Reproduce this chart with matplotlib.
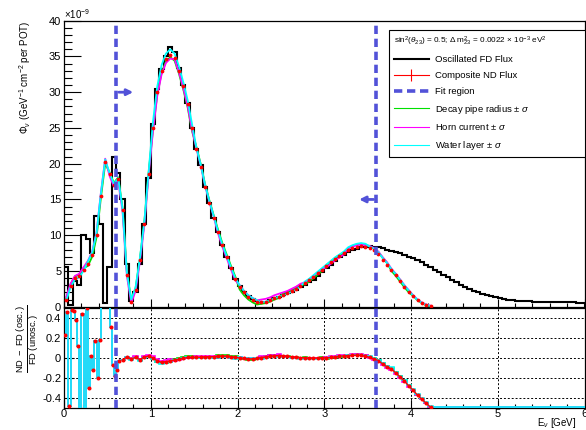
import numpy as np
import matplotlib
matplotlib.use('Agg')
import matplotlib.pyplot as plt
from matplotlib.lines import Line2D
from matplotlib.ticker import MultipleLocator, FormatStrFormatter

plt.rcParams['font.family'] = ['Liberation Sans', 'DejaVu Sans']
plt.rcParams['mathtext.fontset'] = 'custom'
plt.rcParams['mathtext.rm'] = 'Liberation Sans'
plt.rcParams['mathtext.it'] = 'Liberation Sans:italic'
plt.rcParams['mathtext.bf'] = 'Liberation Sans:bold'
plt.rcParams['axes.unicode_minus'] = False

# 50 MeV binning, flux in units of 1e-9 /GeV/cm2/POT
flux_edges = np.linspace(0, 6, 121)

fd_osc = [
    5.5, 0.3, 3.6, 3.0, 10.0, 9.5, 7.5, 12.7, 11.6, 0.5,
    5.6, 21.0, 18.7, 15.0, 6.0, 0.8, 2.0, 6.0, 11.5, 18.0,
    25.5, 30.5, 33.3, 35.0, 36.3, 35.6, 33.4, 31.0, 28.5, 25.0,
    22.0, 19.8, 16.8, 14.5, 12.4, 10.5, 8.6, 7.0, 5.4, 3.9,
    2.9, 2.1, 1.5, 1.1, 0.8, 0.6, 0.7, 0.9, 1.2, 1.4,
    1.6, 1.9, 2.1, 2.4, 2.7, 3.1, 3.4, 3.8, 4.3, 4.9,
    5.4, 5.9, 6.4, 6.9, 7.2, 7.6, 7.9, 8.1, 8.3, 8.4,
    8.45, 8.4, 8.35, 8.2, 8.0, 7.85, 7.65, 7.45, 7.25, 7.0,
    6.75, 6.5, 6.2, 5.9, 5.55, 5.2, 4.85, 4.5, 4.15, 3.8,
    3.45, 3.1, 2.8, 2.5, 2.25, 2.0, 1.8, 1.65, 1.45, 1.3,
    1.15, 1.05, 0.98, 0.92, 0.86, 0.82, 0.78, 0.75, 0.72, 0.7,
    0.68, 0.66, 0.65, 0.64, 0.63, 0.62, 0.6, 0.6, 0.58, 0.57,
]

# composite ND flux, 0 - 4.25 GeV
nd_flux = [
    1.0, 2.9, 4.0, 4.3, 5.2, 6.0, 7.3, 10.0, 15.5, 20.3,
    18.5, 17.0, 17.8, 13.5, 4.5, 0.7, 2.4, 6.5, 11.5, 18.5,
    25.0, 30.0, 33.0, 34.6, 35.2, 34.8, 33.0, 30.8, 28.3, 25.0,
    22.0, 19.6, 16.8, 14.5, 12.4, 10.5, 8.6, 7.0, 5.4, 3.9,
    2.8, 2.0, 1.4, 1.0, 0.7, 0.6, 0.7, 0.9, 1.2, 1.4,
    1.7, 1.9, 2.2, 2.5, 2.9, 3.3, 3.7, 4.2, 4.7, 5.2,
    5.7, 6.2, 6.7, 7.1, 7.5, 7.9, 8.2, 8.4, 8.5, 8.4,
    8.2, 7.9, 7.4, 6.6, 5.9, 5.1, 4.4, 3.6, 2.8, 2.1,
    1.5, 0.9, 0.5, 0.2, 0.05,
]

# systematic shifts of the ND flux, per 250 MeV band (0 - 4.25 GeV)
shift_decay = [0.2, -0.3, 0.3, 0.2, -0.3, -0.4, 0.4, 0.3, -0.4, -0.2, 0.2, -0.2, 0.1, 0.3, 0.2, -0.1, 0.0]
shift_horn = [0.3, 0.4, -0.2, -0.2, -0.5, -0.2, 0.2, -0.2, 0.2, 0.4, 0.3, 0.1, -0.2, 0.2, 0.3, 0.2, 0.1]
shift_water = [-0.2, 0.3, 0.2, 0.3, 0.8, 0.6, 0.3, 0.1, 0.2, 0.0, -0.1, 0.2, 0.2, 0.4, 0.2, 0.15, 0.05]

# (ND - FD osc) / FD unosc : 25 MeV bins below 0.65 GeV, 50 MeV above
ratio_edges = np.concatenate([np.linspace(0, 0.625, 26), np.linspace(0.65, 6.0, 108)])
ratio_low = [
    0.23, 0.46, -0.48, 0.48, 0.47, 0.38, 0.12, -0.8, 0.44, -0.9,
    0.5, -0.3, 0.02, -0.12, 0.17, -0.2, 0.18, 0.8, 1.0, 0.9,
    0.7, 0.31, -0.07, -0.18, -0.12, -0.03,
]
ratio_mid = [
    -0.02, 0.01, -0.01, 0.005, -0.017, 0.01, 0.017,
    0.0, -0.03, -0.043, -0.037, -0.03, -0.02, -0.015, -0.005, 0.005, 0.007,
    0.005, 0.008, 0.01, 0.012, 0.012, 0.015, 0.017, 0.017, 0.01, 0.005,
    0.0, -0.005, -0.01, -0.01, -0.005, 0.003, 0.01, 0.015, 0.02, 0.023,
    0.02, 0.015, 0.01, 0.007, 0.003, 0.0, -0.003, -0.003, -0.002, 0.0,
    0.0, 0.005, 0.01, 0.017, 0.02, 0.023, 0.025, 0.027, 0.024, 0.017,
    0.005, -0.01, -0.03, -0.06, -0.09, -0.11, -0.15, -0.19, -0.23, -0.28,
    -0.32, -0.37, -0.41, -0.45, -0.49,
]
ratio_tail = [-1.0] * 35  # no ND flux above 4.25 GeV

rshift_decay = [0, 0, 0, 0.0, -0.01, 0.01, -0.005, 0.01, -0.01, 0.01, 0.0, 0.005, -0.008, 0.008, 0.005, 0.01, 0.0]
rshift_horn = [0.0, 0.0, 0, 0.01, 0.015, -0.01, 0.01, -0.008, 0.008, 0.012, -0.005, 0.0, 0.01, 0.01, -0.01, -0.01, 0]
rshift_water = [0, 0, 0, -0.01, -0.015, 0.0, -0.01, -0.012, 0.005, -0.01, -0.01, -0.008, 0.0, 0.005, 0.01, 0.015, 0.01]

fit_lo, fit_hi = 0.6, 3.6
fit_color = '#5252d8'
var_colors = ['#00e000', '#ff00ff', '#00ffff']

# ---- derived arrays
nd_flux = np.array(nd_flux)
nd_edges = flux_edges[:len(nd_flux) + 1]
nd_centers = 0.5 * (nd_edges[1:] + nd_edges[:-1])
nd_band = (nd_centers // 0.25).astype(int)

ratio_nom = np.array(ratio_low + ratio_mid)
r_centers = 0.5 * (ratio_edges[1:] + ratio_edges[:-1])
r_band = (r_centers[:len(ratio_nom)] // 0.25).astype(int)
n_low = len(ratio_low)

fig = plt.figure(figsize=(5.86, 4.30), dpi=100)
ax1 = fig.add_axes([64 / 586, 1 - 306.7 / 430, 520.5 / 586, 286 / 430])
ax2 = fig.add_axes([64 / 586, 1 - 408.3 / 430, 520.5 / 586, 100.8 / 430])

# ---- top: fluxes
ax1.stairs(fd_osc, flux_edges, color='black', lw=1.5, zorder=2)
for shift, col, z in zip([shift_decay, shift_horn, shift_water], var_colors, [3, 4, 5]):
    var = np.clip(nd_flux + np.array(shift)[nd_band], 0, None)
    ax1.plot(nd_centers, var, color=col, lw=1.3, zorder=z)
ax1.plot(nd_centers, nd_flux, ls='none', marker='o', ms=1.7, color='red', zorder=6)

ax1.axvline(fit_lo, color=fit_color, lw=2.6, dashes=(2.3, 1.3), zorder=7)
ax1.axvline(fit_hi, color=fit_color, lw=2.6, dashes=(2.3, 1.3), zorder=7)
ax1.annotate('', xy=(fit_lo + 0.23, 30), xytext=(fit_lo, 30),
             arrowprops=dict(arrowstyle='-|>', color=fit_color, lw=2, mutation_scale=9))
ax1.annotate('', xy=(fit_hi - 0.23, 15), xytext=(fit_hi, 15),
             arrowprops=dict(arrowstyle='-|>', color=fit_color, lw=2, mutation_scale=9))

ax1.set_xlim(0, 6)
ax1.set_ylim(0, 40)
ax1.xaxis.set_major_locator(MultipleLocator(1))
ax1.xaxis.set_minor_locator(MultipleLocator(0.2))
ax1.yaxis.set_major_locator(MultipleLocator(5))
ax1.yaxis.set_minor_locator(MultipleLocator(1))
ax1.tick_params(axis='y', which='major', direction='in', length=12, width=0.8, labelsize=8, pad=2)
ax1.tick_params(axis='y', which='minor', direction='in', length=6, width=0.8)
ax1.tick_params(axis='x', which='major', direction='in', length=6, width=0.8, labelbottom=False)
ax1.tick_params(axis='x', which='minor', direction='in', length=3, width=0.8)
ax1.text(0.0, 1.0, r'$\times$10$^{-9}$', transform=ax1.transAxes, ha='left', va='bottom', fontsize=7)
ax1.set_ylabel(r'$\Phi_{\nu}$ (GeV$^{-1}$ cm$^{-2}$ per POT)', fontsize=7, loc='top')
ax1.yaxis.set_label_coords(-0.06, 1.0)

handles = [
    Line2D([], [], color='black', lw=1.5),
    Line2D([], [], color='red', lw=0.8, marker='|', ms=8, mew=0.8),
    Line2D([], [], color=fit_color, lw=2.6, dashes=(2.3, 1.3)),
    Line2D([], [], color=var_colors[0], lw=0.8),
    Line2D([], [], color=var_colors[1], lw=0.8),
    Line2D([], [], color=var_colors[2], lw=0.8),
]
labels = ['Oscillated FD Flux', 'Composite ND Flux', 'Fit region',
          r'Decay pipe radius $\pm$ $\sigma$', r'Horn current $\pm$ $\sigma$', r'Water layer $\pm$ $\sigma$']
leg = ax1.legend(handles, labels, loc='upper left', bbox_to_anchor=(0.6238, 0.0, 0.3762, 0.9675),
                 mode='expand', borderaxespad=0, fontsize=6.8, title_fontsize=5.9,
                 title=r'sin$^2$($\theta_{23}$) = 0.5; $\Delta$ m$^2_{23}$ = 0.0022 $\times$ 10$^{-3}$ eV$^2$',
                 alignment='left', labelspacing=0.72, handlelength=3.7, handletextpad=0.65,
                 borderpad=0.55, fancybox=False, framealpha=1, edgecolor='black')
leg.get_frame().set_linewidth(0.8)
leg.set_zorder(10)

# ---- bottom: relative difference
ax2.grid(True, which='major', color='black', lw=0.7, ls=(0, (2, 2)))
for shift, col, z in zip([rshift_decay, rshift_horn, rshift_water], var_colors, [3, 4, 5]):
    var = np.concatenate([ratio_nom + np.array(shift)[r_band], ratio_tail])
    ax2.stairs(np.clip(var, -0.488, 0.6), ratio_edges, color=col, lw=1.2, baseline=None, zorder=z)
ax2.plot(r_centers[n_low:len(ratio_nom)], ratio_nom[n_low:], color='red', lw=1.0, zorder=6)
ax2.plot(r_centers[:len(ratio_nom)], ratio_nom, ls='none', marker='o', ms=1.9, color='red', zorder=6)
ax2.axvline(fit_lo, color=fit_color, lw=2.6, dashes=(2.3, 1.3), zorder=7)
ax2.axvline(fit_hi, color=fit_color, lw=2.6, dashes=(2.3, 1.3), zorder=7)

ax2.set_xlim(0, 6)
ax2.set_ylim(-0.5, 0.5)
ax2.xaxis.set_major_locator(MultipleLocator(1))
ax2.xaxis.set_minor_locator(MultipleLocator(0.2))
ax2.yaxis.set_major_locator(MultipleLocator(0.2))
ax2.yaxis.set_major_formatter(FormatStrFormatter('%g'))
ax2.tick_params(axis='y', which='major', direction='in', length=7, width=0.8, labelsize=8, pad=2)
ax2.tick_params(axis='x', which='major', direction='in', length=6, width=0.8, labelsize=8, pad=0.5)
ax2.tick_params(axis='x', which='minor', direction='in', length=3, width=0.8)
ax2.set_ylabel(r'$\frac{\mathrm{ND\ -\ FD\ (osc.)}}{\mathrm{FD\ (unosc.)}}$', fontsize=9.5, va='center')
ax2.yaxis.set_label_coords(-0.067, 0.69)
fig.text(0.984, 0.001, r'E$_{\nu}$ [GeV]', ha='right', va='bottom', fontsize=7)

for ax in (ax1, ax2):
    for sp in ax.spines.values():
        sp.set_linewidth(0.9)

fig.savefig('out.png', dpi=100)
